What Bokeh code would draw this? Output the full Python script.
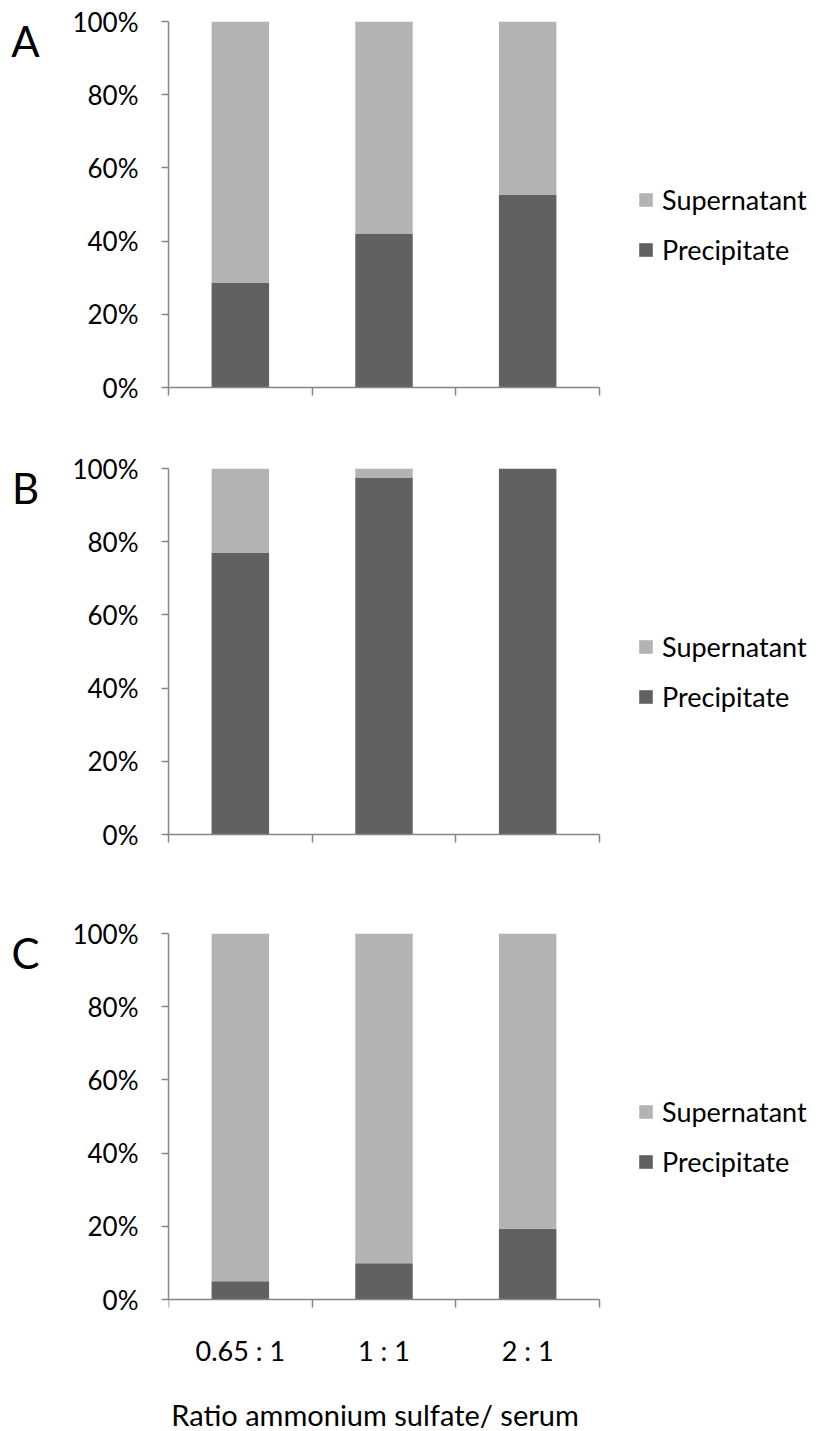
from bokeh.plotting import figure
from bokeh.layouts import column, row
from bokeh.models import (Range1d, FixedTicker, PrintfTickFormatter, Legend, LegendItem,
                          ColumnDataSource, Label)
from bokeh.embed import file_html
from bokeh.resources import INLINE

# ---------------- data ----------------
categories = ["0.65 : 1", "1 : 1", "2 : 1"]
series_names = ["Supernatant", "Precipitate"]
panel_letters = ["A", "B", "C"]
x_title = "Ratio ammonium sulfate/ serum"

a_precipitate = [28.7, 42.1, 52.6]
a_supernatant = [71.3, 57.9, 47.4]
b_precipitate = [76.9, 97.4, 100.0]
b_supernatant = [23.1, 2.6, 0.0]
c_precipitate = [5.0, 9.9, 19.3]
c_supernatant = [95.0, 90.1, 80.7]

y_ticks = [0, 20, 40, 60, 80, 100]

# ---------------- style ----------------
DARK = "#616161"
LIGHT = "#b3b3b3"
AXIS = "#868686"
FONT = "Lato"
FS = "26px"
FS_LEG = "27px"
FS_XLAB = "27px"
FS_TITLE = "29px"
FRAME_H = 366
LETTER_W = 60
PLOT_W = 431          # width of the bar area (3 categories)
RIGHT_W = 220         # room for the legend, kept inside the frame


def make_letter(letter, top_b, frame_h, bottom_b):
    q = figure(width=LETTER_W, height=top_b + frame_h + bottom_b,
               output_backend="svg", toolbar_location=None,
               x_axis_type=None, y_axis_type=None,
               x_range=Range1d(0, 1), y_range=Range1d(0, 1),
               min_border_left=0, min_border_right=0,
               min_border_top=top_b, min_border_bottom=bottom_b)
    q.outline_line_color = None
    q.xgrid.visible = False
    q.ygrid.visible = False
    q.add_layout(Label(x=25, y=frame_h - 19, x_units="screen", y_units="screen",
                       text=letter, text_align="center", text_baseline="middle",
                       text_font=FONT, text_font_size="42px", text_color="black"))
    return q


def make_panel(letter, prec, sup, top_b, bottom_b, show_x):
    n = len(categories)
    xs = [i + 0.5 for i in range(n)]
    src = ColumnDataSource(dict(x=xs, Precipitate=prec, Supernatant=sup))
    x_end = n * (PLOT_W + RIGHT_W) / PLOT_W
    if show_x:
        # frame extended downwards so that tick labels and title stay inside it
        frame_h = FRAME_H + bottom_b
        y_start = -100.0 * bottom_b / FRAME_H
        fig_bottom = 0
    else:
        frame_h = FRAME_H
        y_start = 0
        fig_bottom = bottom_b
    p = figure(width=819 - LETTER_W, height=top_b + frame_h + fig_bottom,
               output_backend="svg", toolbar_location=None,
               x_range=Range1d(0, x_end), y_range=Range1d(y_start, 100),
               min_border_left=168 - LETTER_W, min_border_right=0,
               min_border_top=top_b, min_border_bottom=fig_bottom)
    p.outline_line_color = None
    p.xgrid.visible = False
    p.ygrid.visible = False

    rs = p.vbar_stack(["Precipitate", "Supernatant"], x="x", width=0.4, source=src,
                      fill_color=[DARK, LIGHT], line_color=None)

    # x axis
    xa = p.xaxis[0]
    xa.bounds = (0, n)
    xa.ticker = FixedTicker(ticks=xs, minor_ticks=list(range(n + 1)))
    xa.axis_line_color = AXIS
    xa.axis_line_width = 1.5
    xa.major_tick_line_color = None
    xa.minor_tick_line_color = AXIS
    xa.minor_tick_line_width = 1.5
    xa.minor_tick_in = 0
    xa.minor_tick_out = 8
    xa.major_label_text_font = FONT
    xa.major_label_text_font_size = FS_XLAB
    xa.major_label_text_color = "black"
    if show_x:
        xa.fixed_location = 0
        xa.major_label_overrides = {xs[i]: categories[i] for i in range(n)}
        xa.major_label_standoff = 26
        p.add_layout(Label(x=n / 2, y=17, x_units="data", y_units="screen", x_offset=-9,
                           text=x_title, text_align="center", text_baseline="alphabetic",
                           text_font=FONT, text_font_size=FS_TITLE, text_color="black"))
    else:
        xa.major_label_overrides = {xs[i]: "" for i in range(n)}

    # y axis
    ya = p.yaxis[0]
    ya.bounds = (0, 100)
    ya.ticker = FixedTicker(ticks=y_ticks)
    ya.formatter = PrintfTickFormatter(format="%d%%")
    ya.axis_line_color = AXIS
    ya.axis_line_width = 1.5
    ya.major_tick_line_color = AXIS
    ya.major_tick_line_width = 1.5
    ya.major_tick_in = 0
    ya.major_tick_out = 7
    ya.minor_tick_line_color = None
    ya.major_label_standoff = 23
    ya.major_label_text_font = FONT
    ya.major_label_text_font_size = FS
    ya.major_label_text_color = "black"

    legend_y = 121 + (frame_h - FRAME_H)
    legend = Legend(items=[LegendItem(label=series_names[0], renderers=[rs[1]]),
                           LegendItem(label=series_names[1], renderers=[rs[0]])],
                    location=(469, legend_y), orientation="vertical",
                    border_line_color=None, background_fill_alpha=0,
                    padding=0, margin=0, spacing=17,
                    glyph_width=17, glyph_height=17, label_standoff=8,
                    label_text_font=FONT, label_text_font_size=FS_LEG,
                    label_text_color="black")
    p.add_layout(legend)
    return row(make_letter(letter, top_b, frame_h, fig_bottom), p, spacing=0)


rA = make_panel(panel_letters[0], a_precipitate, a_supernatant, 21, 41, False)
rB = make_panel(panel_letters[1], b_precipitate, b_supernatant, 40, 41, False)
rC = make_panel(panel_letters[2], c_precipitate, c_supernatant, 58, 132, True)

layout = column(rA, rB, rC, spacing=0)
open("out.html", "w").write(file_html(layout, INLINE))
